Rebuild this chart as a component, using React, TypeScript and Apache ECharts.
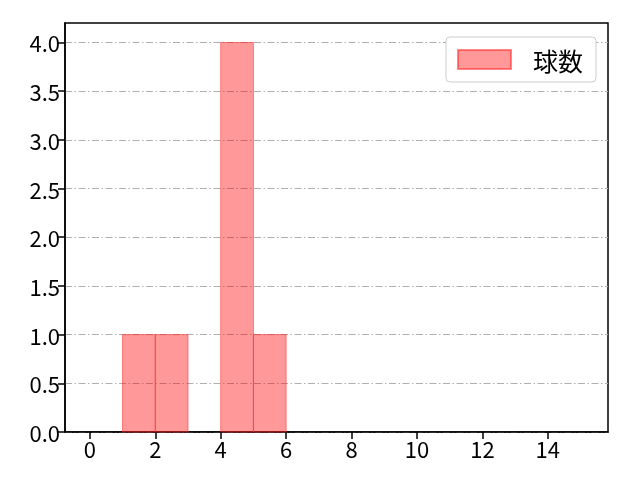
import React, { useEffect, useRef } from "react";
import * as echarts from "echarts";

const binStarts = [1, 2, 4, 5];
const binEnds = [2, 3, 5, 6];
const counts = [1, 1, 4, 1];
const xTicks = [0, 2, 4, 6, 8, 10, 12, 14];
const yTicks = [0, 0.5, 1.0, 1.5, 2.0, 2.5, 3.0, 3.5, 4.0];
const seriesName = "球数";

const FONT = "'Noto Sans CJK JP', 'Noto Sans', sans-serif";

export default function App() {
  const ref = useRef<HTMLDivElement>(null);
  useEffect(() => {
    if (!ref.current) return;
    const chart = echarts.init(ref.current, undefined, { renderer: "svg" });
    const data = binStarts.map((s, i) => [s, binEnds[i], counts[i]]);
    chart.setOption({
      animation: false,
      grid: {
        left: 65,
        right: 32,
        top: 23,
        bottom: 48,
        show: true,
        borderColor: "#000",
        borderWidth: 1.5,
        backgroundColor: "transparent",
      },
      legend: {
        right: 44,
        top: 37,
        data: [seriesName],
        icon: "rect",
        itemWidth: 53,
        itemHeight: 19,
        padding: [10, 13, 10, 11],
        backgroundColor: "#fff",
        borderColor: "#cccccc",
        borderWidth: 1,
        borderRadius: 4,
        textStyle: {
          fontFamily: FONT,
          fontSize: 25,
          color: "#000",
          padding: [0, 0, 0, 17],
        },
      },
      xAxis: {
        type: "value",
        min: -0.76,
        max: 15.84,
        axisLine: { show: true, onZero: false, lineStyle: { color: "#000", width: 1.5 } },
        axisTick: {
          show: true,
          length: 7,
          customValues: xTicks,
          lineStyle: { color: "#000", width: 1.5 },
        },
        axisLabel: {
          customValues: xTicks,
          fontFamily: FONT,
          fontSize: 22,
          color: "#000",
          margin: 5,
        },
        splitLine: { show: false },
      },
      yAxis: {
        type: "value",
        min: 0,
        max: 4.2,
        axisLine: { show: true, onZero: false, lineStyle: { color: "#000", width: 1.5 } },
        axisTick: {
          show: true,
          length: 7,
          customValues: yTicks,
          lineStyle: { color: "#000", width: 1.5 },
        },
        axisLabel: {
          customValues: yTicks,
          formatter: (v: number) => v.toFixed(1),
          fontFamily: FONT,
          fontSize: 22,
          color: "#000",
          margin: 5,
        },
        splitLine: {
          show: true,
          lineStyle: { color: "#b0b0b0", width: 1, type: [7, 2.5, 1.5, 2.5] },
        },
      },
      series: [
        {
          name: seriesName,
          type: "custom",
          encode: { x: [0, 1], y: 2 },
          itemStyle: { color: "rgba(255,0,0,0.4)", borderColor: "rgba(255,40,40,0.55)", borderWidth: 1 },
          renderItem: (params: any, api: any) => {
            const x0 = api.value(0);
            const x1 = api.value(1);
            const h = api.value(2);
            const p0 = api.coord([x0, h]);
            const p1 = api.coord([x1, 0]);
            return {
              type: "rect",
              shape: { x: p0[0], y: p0[1], width: p1[0] - p0[0], height: p1[1] - p0[1] },
              style: { fill: "rgba(255,0,0,0.4)", stroke: "rgba(255,40,40,0.55)", lineWidth: 1 },
            };
          },
          data,
        },
      ],
    });
    return () => chart.dispose();
  }, []);
  return (
    <div
      ref={ref}
      style={{ position: "fixed", left: 0, top: 0, width: 640, height: 480 }}
    />
  );
}
